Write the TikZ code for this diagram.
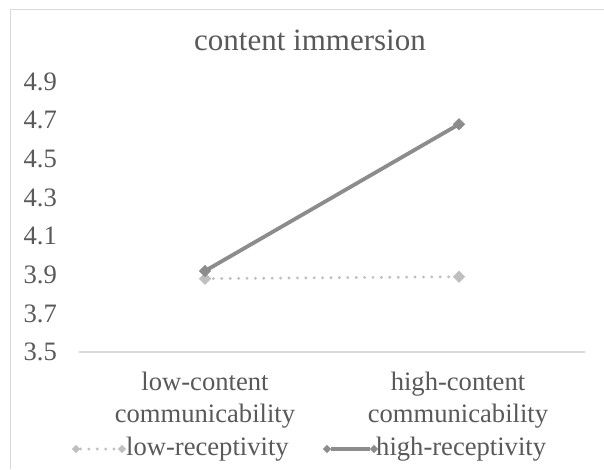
\documentclass[tikz,border=0pt]{standalone}
\usepackage{fontspec}
\setmainfont{Liberation Serif}
\usetikzlibrary{shapes.geometric}
\definecolor{txtgray}{HTML}{595959}
\definecolor{framegray}{HTML}{D9D9D9}
\definecolor{lowgray}{HTML}{BFBFBF}
\definecolor{highgray}{HTML}{8C8C8C}
\tikzset{
  lbl/.style={text=txtgray, font=\fontsize{26.6}{32}\selectfont, inner sep=0pt},
  ttl/.style={text=txtgray, font=\fontsize{31}{36}\selectfont, inner sep=0pt},
  lowline/.style={draw=lowgray, line width=3.2pt, line cap=round, dash pattern=on 0pt off 8.4pt},
  highline/.style={draw=highgray, line width=3.8pt},
  lowmark/.style={diamond, fill=lowgray, inner sep=0pt, minimum size=12.5pt},
  highmark/.style={diamond, fill=highgray, inner sep=0pt, minimum size=12.5pt},
  lowkey/.style={diamond, fill=lowgray, inner sep=0pt, minimum size=8.5pt},
  highkey/.style={diamond, fill=highgray, inner sep=0pt, minimum size=8.5pt},
}
\begin{document}
\begin{tikzpicture}[x=1pt, y=-1pt]
  % canvas
  \useasboundingbox[fill=white] (0,0) rectangle (604,469);
  % chart frame (top and left edges)
  \draw[framegray, line width=1.5pt] (10.5,469) -- (10.5,9.5) -- (604,9.5);
  % title
  \node[ttl] (title) at (310,40) {content immersion};
  % value axis labels
  \foreach \v [count=\i] in {4.9,4.7,4.5,4.3,4.1,3.9,3.7,3.5} {
    \node[lbl, anchor=east] (tick\i) at (57,{352-193*(\v-3.5)}) {\v};
  }
  % category axis
  \coordinate (axl) at (79,352);
  \coordinate (axr) at (585,352);
  \draw[framegray, line width=1.5pt] (axl) -- (axr);
  \node[lbl, align=center] (catlow) at (205,400) {low-content\\communicability};
  \node[lbl, align=center] (cathigh) at (458,400) {high-content\\communicability};
  % data points
  \coordinate (lowA) at (205,{352-193*(3.88-3.5)});
  \coordinate (lowB) at (459,{352-193*(3.89-3.5)});
  \coordinate (highA) at (205,{352-193*(3.92-3.5)});
  \coordinate (highB) at (459,{352-193*(4.68-3.5)});
  % low-receptivity series
  \draw[lowline] (lowA) -- (lowB);
  \node[lowmark] (lowAm) at (lowA) {};
  \node[lowmark] (lowBm) at (lowB) {};
  % high-receptivity series
  \draw[highline] (highA) -- (highB);
  \node[highmark] (highAm) at (highA) {};
  \node[highmark] (highBm) at (highB) {};
  % legend
  \node[lowkey] (lk1) at (76,449) {};
  \node[lowkey] (lk2) at (122,449) {};
  \draw[lowline] (lk1) -- (lk2);
  \node[lbl, anchor=west] (lowtxt) at (126,449) {low-receptivity};
  \node[highkey] (hk1) at (327,449) {};
  \node[highkey] (hk2) at (374,449) {};
  \draw[highline] (hk1) -- (hk2);
  \node[lbl, anchor=west] (hightxt) at (376,449) {high-receptivity};
\end{tikzpicture}
\end{document}
